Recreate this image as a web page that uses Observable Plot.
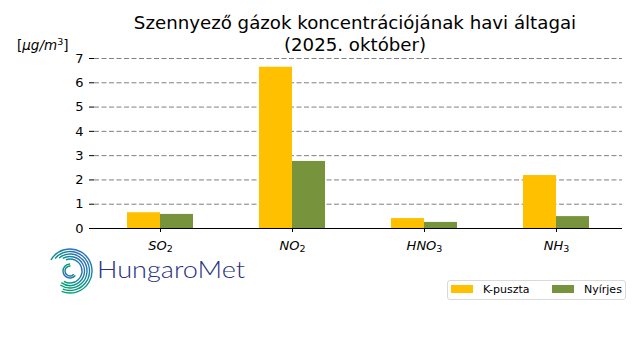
<!DOCTYPE html>
<html><head><meta charset="utf-8">
<script src="https://cdn.jsdelivr.net/npm/d3@7"></script>
<script src="https://cdn.jsdelivr.net/npm/@observablehq/plot@0.6"></script>
<style>
body{margin:0;background:#fff;font-family:"DejaVu Sans",sans-serif;}
#wrap{position:relative;width:640px;height:360px;overflow:hidden;background:#fff;}
#title{position:absolute;left:55px;width:600px;top:12px;text-align:center;font-size:18.2px;line-height:22px;color:#000;}
#unit{position:absolute;left:17px;top:37px;font-size:13.5px;color:#000;white-space:nowrap;}
#unit sup{font-size:9.5px;vertical-align:5px;line-height:0;}
#chart{position:absolute;left:0;top:0;}
#legend{position:absolute;left:447px;top:280px;width:177px;height:18px;border:1px solid #d9d9d9;border-radius:3px;font-size:11px;color:#000;background:#fff;}
#legend .it{position:absolute;top:0;height:18px;line-height:18px;white-space:nowrap;}
#legend .sw{display:inline-block;width:22px;height:7.5px;vertical-align:middle;margin-right:10px;position:relative;top:-1px;}
#logo{position:absolute;left:40px;top:244px;}
</style></head>
<body>
<div id="wrap">
  <div id="chart"></div>
  <div id="title">Szennyező gázok koncentrációjának havi áltagai<br>(2025. október)</div>
  <div id="unit">[<i>μg/m</i><sup>3</sup>]</div>
  <div id="legend"></div>
  <svg id="logo" width="220" height="56" viewBox="0 4 220 56">
    <defs>
      <linearGradient id="lg" x1="0" y1="0" x2="0" y2="1">
        <stop offset="0" stop-color="#00a070"/>
        <stop offset="0.55" stop-color="#10908e"/>
        <stop offset="1" stop-color="#2a70b8"/>
      </linearGradient>
    </defs>
    <g fill="none" stroke="url(#lg)" stroke-width="1.4">
      <circle cx="30" cy="31" r="22" stroke-dasharray="100 38" transform="rotate(-150 30 31)"/>
      <circle cx="30" cy="31" r="19.5" stroke-dasharray="85 38" transform="rotate(-140 30 31)"/>
      <circle cx="30" cy="31" r="17" stroke-dasharray="75 32" transform="rotate(-130 30 31)"/>
      <circle cx="30" cy="31" r="14.5" stroke-dasharray="62 29" transform="rotate(-120 30 31)"/>
      <circle cx="30" cy="31" r="12" stroke-dasharray="48 28" transform="rotate(-110 30 31)"/>
      <circle cx="30" cy="31" r="7" stroke-dasharray="28 16" transform="rotate(40 30 31)"/>
      <circle cx="30" cy="31" r="5" stroke-dasharray="20 12" transform="rotate(40 30 31)"/>
    </g>
    <text x="57" y="38" font-family="Lato, 'Open Sans', sans-serif" font-size="23" font-weight="300" fill="#27307f" textLength="148" lengthAdjust="spacingAndGlyphs">HungaroMet</text>
  </svg>
</div>
<script>
const categories = ["SO2", "NO2", "HNO3", "NH3"];
const formulaBase = ["SO", "NO", "HNO", "NH"];
const formulaSub = ["2", "2", "3", "3"];
const series = ["K-puszta", "Nyírjes"];
const kpuszta = [0.65, 6.64, 0.41, 2.18];
const nyirjes = [0.58, 2.76, 0.25, 0.49];
const yTicks = [0, 1, 2, 3, 4, 5, 6, 7];
const colors = ["#FFC000", "#77933C"];

const barWidth = 0.25;
const rows = categories.flatMap((c, i) => [
  {cat: c, i, series: series[0], v: kpuszta[i], x1: i - barWidth, x2: i},
  {cat: c, i, series: series[1], v: nyirjes[i], x1: i, x2: i + barWidth}
]);

const chart = Plot.plot({
  width: 640, height: 260,
  marginTop: 58, marginLeft: 94, marginRight: 18, marginBottom: 32,
  style: {fontFamily: "DejaVu Sans", fontSize: "13px", color: "#000", background: "transparent", overflow: "visible"},
  x: {domain: [-0.5, categories.length - 0.5]},
  y: {domain: [0, 7]},
  color: {domain: series, range: colors},
  marks: [
    Plot.ruleY(yTicks.slice(1), {stroke: "#808080", strokeDasharray: "5,2.5", strokeWidth: 1}),
    Plot.rect(rows, {x1: "x1", x2: "x2", y1: 0, y2: "v", fill: "series"}),
    Plot.ruleY([0], {stroke: "#000", strokeWidth: 1.2}),
    Plot.axisY({ticks: yTicks, tickSize: 5, tickPadding: 6, label: null, tickFormat: d => String(d), strokeWidth: 1}),
    Plot.axisX({ticks: categories.map((c, i) => i), tickSize: 4, tickPadding: 8, label: null,
      tickFormat: i => formulaBase[i] + formulaSub[i], fontStyle: "italic"})
  ]
});
document.getElementById("chart").appendChild(chart);

// chemical subscripts
chart.querySelectorAll('[aria-label="x-axis tick label"] text').forEach((t, i) => {
  t.textContent = formulaBase[i];
  const ts = document.createElementNS("http://www.w3.org/2000/svg", "tspan");
  ts.textContent = formulaSub[i];
  ts.setAttribute("font-size", "9.5");
  ts.setAttribute("font-style", "normal");
  ts.setAttribute("dy", "2.5");
  t.appendChild(ts);
});

// legend
const legend = document.getElementById("legend");
const lefts = [3, 104];
series.forEach((s, k) => {
  const it = document.createElement("div");
  it.className = "it";
  it.style.left = lefts[k] + "px";
  it.innerHTML = `<span class="sw" style="background:${colors[k]}"></span>${s}`;
  legend.appendChild(it);
});
</script>
</body></html>
